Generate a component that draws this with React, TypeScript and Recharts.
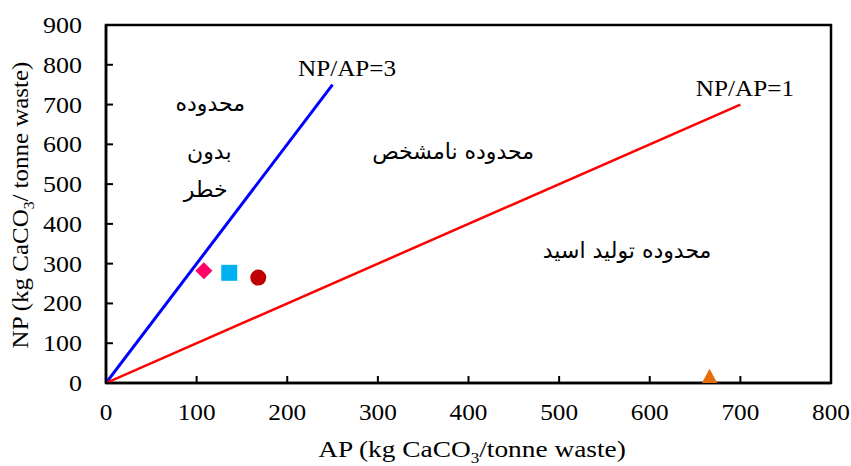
import React from 'react';
import { ScatterChart, Scatter, XAxis, YAxis, ReferenceArea } from 'recharts';

const xTicks = [0, 100, 200, 300, 400, 500, 600, 700, 800];
const yTicks = [0, 100, 200, 300, 400, 500, 600, 700, 800, 900];

const lineRatio3 = [{ ap: 0, np: 0 }, { ap: 250, np: 750 }];
const lineRatio1 = [{ ap: 0, np: 0 }, { ap: 700, np: 700 }];

const sampleDiamond = [{ ap: 108, np: 282 }];
const sampleSquare = [{ ap: 136, np: 277 }];
const sampleCircle = [{ ap: 168, np: 265 }];
const sampleTriangle = [{ ap: 666, np: 16 }];

const lineLabels = [
  { ap: 266, np: 792, text: 'NP/AP=3' },
  { ap: 705, np: 742, text: 'NP/AP=1' },
];
const zoneLabels = [
  { ap: 115, np: 702, text: 'محدوده' },
  { ap: 114, np: 580, text: 'بدون' },
  { ap: 110, np: 485, text: 'خطر' },
  { ap: 383, np: 580, text: 'محدوده نامشخص' },
  { ap: 575, np: 332, text: 'محدوده تولید اسید' },
];

const SERIF = '"Liberation Serif", "Times New Roman", serif';
const ARABIC = '"DejaVu Sans", "Noto Sans", sans-serif';

const XTick = (props: any) => {
  const { x, y, payload } = props;
  return (
    <g>
      <line x1={x} x2={x} y1={y} y2={y - 7} stroke="#000" strokeWidth={2} />
      <text
        transform={`translate(${x},${y + 37}) scale(1.1,1)`}
        textAnchor="middle"
        fontSize={23}
        fontFamily={SERIF}
        fill="#000"
      >
        {payload.value}
      </text>
    </g>
  );
};

const YTick = (props: any) => {
  const { x, y, payload } = props;
  return (
    <g>
      <line x1={x} x2={x + 7} y1={y} y2={y} stroke="#000" strokeWidth={2} />
      <text
        transform={`translate(${x - 24},${y + 8}) scale(1.13,1)`}
        textAnchor="end"
        fontSize={23}
        fontFamily={SERIF}
        fill="#000"
      >
        {payload.value}
      </text>
    </g>
  );
};

const XTitle = () => (
  <text
    transform="translate(472,457) scale(1.14,1)"
    textAnchor="middle"
    fontSize={24}
    fontFamily={SERIF}
    fill="#000"
  >
    AP (kg CaCO<tspan fontSize={15} dy={6}>3</tspan>
    <tspan dy={-6}>/tonne waste)</tspan>
  </text>
);

const YTitle = () => (
  <text
    transform="translate(28,205) rotate(-90) scale(1.04,1)"
    textAnchor="middle"
    fontSize={24}
    fontFamily={SERIF}
    fill="#000"
  >
    NP (kg CaCO<tspan fontSize={15} dy={6}>3</tspan>
    <tspan dy={-6}>/ tonne waste)</tspan>
  </text>
);

const diamondShape = (p: any) => {
  const { cx, cy } = p;
  const r = 8.5;
  return <path d={`M${cx},${cy - r}L${cx + r},${cy}L${cx},${cy + r}L${cx - r},${cy}Z`} fill="#FF0066" />;
};
const squareShape = (p: any) => {
  const { cx, cy } = p;
  return <rect x={cx - 8} y={cy - 8} width={16} height={16} fill="#00B0F0" />;
};
const circleShape = (p: any) => {
  const { cx, cy } = p;
  return <circle cx={cx} cy={cy} r={8} fill="#C00000" />;
};
const triangleShape = (p: any) => {
  const { cx, cy } = p;
  return <path d={`M${cx},${cy - 8}L${cx + 8},${cy + 7}L${cx - 8},${cy + 7}Z`} fill="#E46C0A" />;
};
const emptyShape = () => <g />;

const lineLabelShape = (p: any) => {
  const { cx, cy, payload } = p;
  return (
    <text
      transform={`translate(${cx},${cy + 8}) scale(1.05,1)`}
      textAnchor="middle"
      fontSize={24}
      fontFamily={SERIF}
      fill="#000"
    >
      {payload.text}
    </text>
  );
};
const zoneLabelShape = (p: any) => {
  const { cx, cy, payload } = p;
  return (
    <text x={cx} y={cy + 7} textAnchor="middle" fontSize={22} fontFamily={ARABIC} fill="#000" direction="rtl">
      {payload.text}
    </text>
  );
};

export default function App() {
  return (
    <div style={{ position: 'absolute', left: 0, top: 0, background: '#fff' }}>
      <ScatterChart width={851} height={466} margin={{ top: 25, right: 20, bottom: 0, left: 0 }}>
        <XAxis
          type="number"
          dataKey="ap"
          domain={[0, 800]}
          ticks={xTicks}
          tick={<XTick />}
          tickSize={0}
          tickMargin={0}
          tickLine={false}
          axisLine={{ stroke: '#000', strokeWidth: 2.5 }}
          height={83}
          interval={0}
          allowDataOverflow
        />
        <YAxis
          type="number"
          dataKey="np"
          domain={[0, 900]}
          ticks={yTicks}
          tick={<YTick />}
          tickSize={0}
          tickMargin={0}
          tickLine={false}
          axisLine={{ stroke: '#000', strokeWidth: 2.5 }}
          width={106}
          interval={0}
          allowDataOverflow
        />
        <ReferenceArea x1={0} x2={800} y1={0} y2={900} fill="none" stroke="#000" strokeWidth={2.5} />
        <Scatter data={lineRatio3} line={{ stroke: '#0000FF', strokeWidth: 3 }} stroke="#0000FF" shape={emptyShape} isAnimationActive={false} />
        <Scatter data={lineRatio1} line={{ stroke: '#FF0000', strokeWidth: 2.5 }} stroke="#FF0000" shape={emptyShape} isAnimationActive={false} />
        <Scatter data={sampleDiamond} shape={diamondShape} isAnimationActive={false} />
        <Scatter data={sampleSquare} shape={squareShape} isAnimationActive={false} />
        <Scatter data={sampleCircle} shape={circleShape} isAnimationActive={false} />
        <Scatter data={sampleTriangle} shape={triangleShape} isAnimationActive={false} />
        <Scatter data={lineLabels} shape={lineLabelShape} isAnimationActive={false} />
        <Scatter data={zoneLabels} shape={zoneLabelShape} isAnimationActive={false} />
      </ScatterChart>
      <svg width={851} height={466} style={{ position: 'absolute', left: 0, top: 0, pointerEvents: 'none' }}>
        <XTitle />
        <YTitle />
      </svg>
    </div>
  );
}
